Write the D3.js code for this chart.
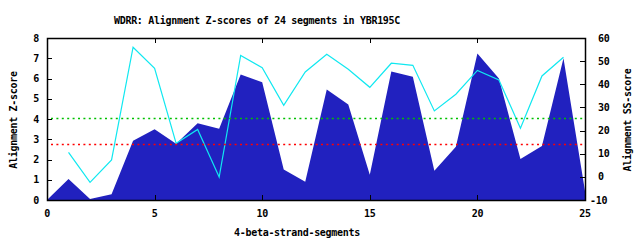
<!DOCTYPE html>
<html>
<head>
<meta charset="utf-8">
<script src="https://cdn.jsdelivr.net/npm/d3@7"></script>
<style>
  body { margin: 0; background: #fff; }
  text { font-family: "DejaVu Sans Mono", monospace; font-weight: bold; font-size: 10px; letter-spacing: -0.3px; fill: #000; }
</style>
</head>
<body>
<svg id="chart" width="640" height="240"></svg>
<script>
// Z-score per segment position (left axis), positions 0..25
const segPos = d3.range(0, 26);
const zScores = [0, 1.04, 0.05, 0.28, 2.93, 3.5, 2.78, 3.79, 3.52, 6.2, 5.81, 1.51, 0.9,
  5.46, 4.72, 1.25, 6.34, 6.09, 1.45, 2.63, 7.24, 6.0, 2.02, 2.67, 7.0, 0.44];

// SS-score per segment (right axis), segments 1..24
const ssPos = d3.range(1, 25);
const ssScores = [10.6, -2.4, 7.3, 56, 46.9, 14.5, 20.5, -0.1, 52.5, 47.2, 30.9, 45.3,
  53, 46.5, 38.7, 49.1, 48.2, 28.5, 35.7, 46, 41.9, 21, 43.6, 51.7];

// threshold lines on the Z-score axis
const thresholds = [{ value: 4.03, color: "#00c000" }, { value: 2.75, color: "#ff0000" }];

const xTicks = [0, 5, 10, 15, 20, 25];
const yTicks = d3.range(0, 9);
const y2Ticks = d3.range(-10, 61, 10);

const svg = d3.select("#chart");
const plot = { left: 47, right: 585, top: 38, bottom: 200 };

const x = d3.scaleLinear().domain([0, 25]).range([plot.left, plot.right]);
const y = d3.scaleLinear().domain([0, 8]).range([plot.bottom, plot.top]);
const y2 = d3.scaleLinear().domain([-10, 60]).range([plot.bottom, plot.top]);

// filled Z-score profile
svg.append("path")
  .datum(segPos)
  .attr("fill", "#2121bf")
  .attr("d", d3.area().x(i => x(i)).y0(y(0)).y1(i => y(zScores[i])));

// SS-score line
svg.append("path")
  .datum(ssPos)
  .attr("fill", "none")
  .attr("stroke", "#10e8f0")
  .attr("stroke-width", 1.2)
  .attr("d", d3.line().x(i => x(i)).y((i, k) => y2(ssScores[k])));

// dotted threshold lines
svg.selectAll("line.thr")
  .data(thresholds)
  .join("line")
  .attr("class", "thr")
  .attr("x1", plot.left + 4).attr("x2", plot.right - 2)
  .attr("y1", d => Math.round(y(d.value)) + 0.5)
  .attr("y2", d => Math.round(y(d.value)) + 0.5)
  .attr("stroke", d => d.color)
  .attr("stroke-width", 1.5)
  .attr("stroke-dasharray", "2,3.4");

// ticks (inward, mirrored on top)
const tk = 5;
const g = svg.append("g").attr("stroke", "#000").attr("stroke-width", 1);
xTicks.forEach(t => {
  const px = Math.round(x(t)) + 0.5;
  g.append("line").attr("x1", px).attr("x2", px).attr("y1", plot.bottom).attr("y2", plot.bottom - tk);
  g.append("line").attr("x1", px).attr("x2", px).attr("y1", plot.top).attr("y2", plot.top + tk);
});
yTicks.forEach(t => {
  const py = Math.round(y(t)) + 0.5;
  g.append("line").attr("x1", plot.left).attr("x2", plot.left + tk).attr("y1", py).attr("y2", py);
});
y2Ticks.forEach(t => {
  const py = Math.round(y2(t)) + 0.5;
  g.append("line").attr("x1", plot.right).attr("x2", plot.right - tk).attr("y1", py).attr("y2", py);
});

// border
svg.append("rect")
  .attr("x", plot.left + 0.5).attr("y", plot.top + 0.5)
  .attr("width", plot.right - plot.left).attr("height", plot.bottom - plot.top)
  .attr("fill", "none").attr("stroke", "#000").attr("stroke-width", 1.5);

// tick labels
svg.selectAll("text.xt").data(xTicks).join("text")
  .attr("class", "xt")
  .attr("x", d => x(d)).attr("y", 217)
  .attr("text-anchor", "middle")
  .text(d => d);

svg.selectAll("text.yt").data(yTicks).join("text")
  .attr("class", "yt")
  .attr("x", 39).attr("y", d => y(d) + 3.5)
  .attr("text-anchor", "end")
  .text(d => d);

svg.selectAll("text.y2t").data(y2Ticks).join("text")
  .attr("class", "y2t")
  .attr("x", d => d < 0 ? 590 : 598).attr("y", d => y2(d) + 3.5)
  .text(d => d);

// titles
svg.append("text")
  .attr("x", 257).attr("y", 24)
  .attr("text-anchor", "middle")
  .text("WDRR: Alignment Z-scores of 24 segments in YBR195C");

svg.append("text")
  .attr("x", 297).attr("y", 236)
  .attr("text-anchor", "middle")
  .text("4-beta-strand-segments");

svg.append("text")
  .attr("transform", "translate(17,120) rotate(-90)")
  .attr("text-anchor", "middle")
  .text("Alignment Z-score");

svg.append("text")
  .attr("transform", "translate(631,120) rotate(-90)")
  .attr("text-anchor", "middle")
  .text("Alignment SS-score");
</script>
</body>
</html>
